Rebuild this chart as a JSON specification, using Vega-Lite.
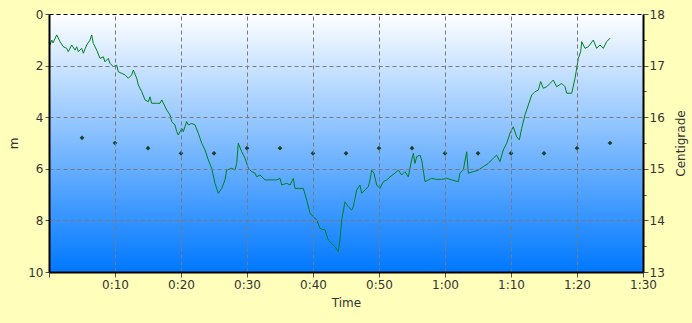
{
  "$schema": "https://vega.github.io/schema/vega-lite/v6.json",
  "autosize": {"type": "none"},
  "width": 594,
  "height": 258,
  "padding": {"left": 49, "top": 14, "right": 49, "bottom": 51},
  "background": "#ffffbb",
  "config": {
    "view": {"stroke": null},
    "axis": {
      "labelFont": "DejaVu Sans", "labelFontSize": 12, "labelColor": "#333333",
      "titleFont": "DejaVu Sans", "titleFontSize": 12, "titleFontWeight": "normal", "titleColor": "#333333",
      "domainColor": "#000000", "domainWidth": 2, "tickColor": "#555555",
      "gridColor": "#7a7a7a", "gridDash": [4, 3], "gridWidth": 1
    }
  },
  "datasets": {
    "depth": [
      {"t":0,"d":1.09},{"t":0.15,"d":1.2},{"t":0.41,"d":1.01},{"t":0.61,"d":1.12},{"t":1.17,"d":0.81},{"t":1.67,"d":1.07},{"t":2.17,"d":1.27},{"t":2.68,"d":1.33},{"t":2.92,"d":1.46},{"t":3.44,"d":1.2},{"t":3.94,"d":1.4},{"t":4.2,"d":1.27},{"t":4.44,"d":1.46},{"t":4.95,"d":1.33},{"t":5.2,"d":1.52},{"t":5.71,"d":1.2},{"t":6.21,"d":1.01},{"t":6.47,"d":0.81},{"t":6.71,"d":1.14},{"t":7.23,"d":1.4},{"t":7.73,"d":1.72},{"t":8.23,"d":1.66},{"t":8.48,"d":1.85},{"t":8.98,"d":1.72},{"t":9.24,"d":1.91},{"t":9.74,"d":2.04},{"t":10.26,"d":1.98},{"t":10.5,"d":2.24},{"t":11.02,"d":2.3},{"t":11.52,"d":2.36},{"t":12.02,"d":2.49},{"t":12.53,"d":2.36},{"t":12.77,"d":2.17},{"t":13.29,"d":2.49},{"t":13.53,"d":2.75},{"t":14.05,"d":3.01},{"t":14.55,"d":3.33},{"t":15.05,"d":3.4},{"t":15.3,"d":3.21},{"t":15.56,"d":3.46},{"t":16.32,"d":3.46},{"t":16.82,"d":3.46},{"t":17.08,"d":3.33},{"t":17.47,"d":3.53},{"t":17.83,"d":3.72},{"t":18.33,"d":3.91},{"t":18.59,"d":4.17},{"t":19.09,"d":4.3},{"t":19.35,"d":4.56},{"t":19.59,"d":4.69},{"t":19.85,"d":4.56},{"t":20.11,"d":4.43},{"t":20.35,"d":4.56},{"t":20.86,"d":4.17},{"t":21.11,"d":4.3},{"t":21.62,"d":4.24},{"t":22.12,"d":4.3},{"t":22.62,"d":4.62},{"t":23.14,"d":5.01},{"t":23.64,"d":5.27},{"t":24.14,"d":5.66},{"t":24.65,"d":5.98},{"t":25.15,"d":6.56},{"t":25.65,"d":6.95},{"t":26.17,"d":6.76},{"t":26.67,"d":6.43},{"t":26.92,"d":6.05},{"t":27.68,"d":5.98},{"t":28.18,"d":6.05},{"t":28.44,"d":5.79},{"t":28.68,"d":5.01},{"t":29.2,"d":5.34},{"t":29.7,"d":5.59},{"t":30.2,"d":5.98},{"t":30.71,"d":6.11},{"t":31.21,"d":6.17},{"t":31.47,"d":6.31},{"t":31.97,"d":6.24},{"t":32.73,"d":6.43},{"t":33.48,"d":6.43},{"t":34.5,"d":6.43},{"t":35,"d":6.37},{"t":35.26,"d":6.63},{"t":36.02,"d":6.56},{"t":36.52,"d":6.63},{"t":37.02,"d":6.37},{"t":37.27,"d":6.76},{"t":37.77,"d":6.76},{"t":38.53,"d":6.76},{"t":39.05,"d":7.21},{"t":39.55,"d":7.72},{"t":40.05,"d":7.86},{"t":40.56,"d":7.98},{"t":41.06,"d":8.31},{"t":41.82,"d":8.37},{"t":42.32,"d":8.76},{"t":42.83,"d":8.89},{"t":43.33,"d":9.02},{"t":43.83,"d":9.21},{"t":44.09,"d":8.76},{"t":44.35,"d":7.98},{"t":44.85,"d":7.28},{"t":45.35,"d":7.47},{"t":45.86,"d":7.6},{"t":46.11,"d":7.47},{"t":46.62,"d":6.82},{"t":47.12,"d":6.63},{"t":47.38,"d":6.95},{"t":47.88,"d":6.82},{"t":48.38,"d":6.69},{"t":48.64,"d":6.43},{"t":48.89,"d":6.05},{"t":49.24,"d":6.17},{"t":49.65,"d":6.63},{"t":50.15,"d":6.76},{"t":50.65,"d":6.5},{"t":51.17,"d":6.43},{"t":51.67,"d":6.31},{"t":52.42,"d":6.17},{"t":52.92,"d":6.05},{"t":53.44,"d":6.24},{"t":53.94,"d":6.11},{"t":54.44,"d":6.31},{"t":54.95,"d":5.66},{"t":55.2,"d":5.4},{"t":55.45,"d":5.79},{"t":55.71,"d":5.53},{"t":56.21,"d":5.47},{"t":56.47,"d":5.66},{"t":56.97,"d":6.5},{"t":57.47,"d":6.43},{"t":57.98,"d":6.37},{"t":58.74,"d":6.41},{"t":59.5,"d":6.41},{"t":60.26,"d":6.37},{"t":61.02,"d":6.43},{"t":62.02,"d":6.5},{"t":62.27,"d":6.17},{"t":62.77,"d":6.05},{"t":63.29,"d":5.34},{"t":63.53,"d":6.17},{"t":64.29,"d":6.11},{"t":65.05,"d":6.05},{"t":65.8,"d":5.92},{"t":66.56,"d":5.79},{"t":67.32,"d":5.59},{"t":67.83,"d":5.47},{"t":68.33,"d":5.72},{"t":68.83,"d":5.27},{"t":69.35,"d":5.01},{"t":69.85,"d":4.62},{"t":70.35,"d":4.37},{"t":70.86,"d":4.76},{"t":71.26,"d":4.88},{"t":71.62,"d":4.43},{"t":72.12,"d":3.91},{"t":72.62,"d":3.53},{"t":73.14,"d":3.14},{"t":73.64,"d":3.01},{"t":74.14,"d":2.95},{"t":74.5,"d":2.62},{"t":74.89,"d":2.88},{"t":75.41,"d":2.82},{"t":75.91,"d":2.69},{"t":76.41,"d":2.56},{"t":76.92,"d":2.82},{"t":77.68,"d":2.69},{"t":78.18,"d":2.82},{"t":78.44,"d":3.07},{"t":79.2,"d":3.07},{"t":79.7,"d":2.49},{"t":80.2,"d":1.72},{"t":80.56,"d":1.46},{"t":80.71,"d":1.07},{"t":81.21,"d":1.33},{"t":81.71,"d":1.27},{"t":82.47,"d":1.01},{"t":82.98,"d":1.33},{"t":83.48,"d":1.2},{"t":83.98,"d":1.33},{"t":84.5,"d":1.07},{"t":85,"d":0.94}
    ],
    "temp": [
      {"t":5,"c":15.6},{"t":10,"c":15.5},{"t":15,"c":15.4},{"t":20,"c":15.3},{"t":25,"c":15.3},{"t":30,"c":15.4},{"t":35,"c":15.4},{"t":40,"c":15.3},{"t":45,"c":15.3},{"t":50,"c":15.4},{"t":55,"c":15.4},{"t":60,"c":15.3},{"t":65,"c":15.3},{"t":70,"c":15.3},{"t":75,"c":15.3},{"t":80,"c":15.4},{"t":85,"c":15.5}
    ],
    "bg": [{"x0":0,"x1":90,"y0":0,"y1":10}]
  },
  "layer": [
    {
      "layer": [
        {
          "data": {"name": "bg"},
          "mark": {"type": "rect", "fill": {"gradient": "linear", "x1": 0, "y1": 0, "x2": 0, "y2": 1, "stops": [{"offset": 0, "color": "#ffffff"}, {"offset": 1, "color": "#0078ff"}]}},
          "encoding": {
            "x": {
              "field": "x0", "type": "quantitative", "scale": {"domain": [0, 90], "nice": false, "zero": false},
              "axis": {
                "title": "Time", "zindex": 1,
                "values": [0,2.5,5,7.5,10,12.5,15,17.5,20,22.5,25,27.5,30,32.5,35,37.5,40,42.5,45,47.5,50,52.5,55,57.5,60,62.5,65,67.5,70,72.5,75,77.5,80,82.5,85,87.5,90],
                "labelExpr": "datum.value % 10 === 0 && datum.value > 0 ? floor(datum.value / 60) + ':' + (datum.value % 60 < 10 ? '0' : '') + (datum.value % 60) : ''",
                "tickSize": {"condition": {"test": "datum.value % 10 === 0", "value": 5}, "value": 3},
                "gridOpacity": {"condition": {"test": "datum.value % 10 === 0 && datum.value > 0 && datum.value < 90", "value": 1}, "value": 0},
                "labelPadding": 2, "labelFlush": false, "labelOverlap": false,
                "titleX": 297, "titleY": 30, "titleBaseline": "middle", "titleAlign": "center"
              }
            },
            "x2": {"field": "x1"},
            "y": {
              "field": "y0", "type": "quantitative", "scale": {"domain": [0, 10], "reverse": true, "nice": false, "zero": false},
              "axis": {
                "title": "m", "orient": "left", "zindex": 1,
                "values": [0,1,2,3,4,5,6,7,8,9,10],
                "labelExpr": "datum.value % 2 === 0 ? datum.label : ''",
                "tickSize": {"condition": {"test": "datum.value % 2 === 0", "value": 4}, "value": 3},
                "gridOpacity": {"condition": {"test": "datum.value % 2 === 0 && datum.value < 10", "value": 1}, "value": 0},
                "gridColor": {"condition": {"test": "datum.value === 0", "value": "#000000"}, "value": "#7a7a7a"},
                "labelPadding": 2, "labelFlush": false, "labelOverlap": false,
                "titleAngle": -90, "titleX": -36, "titleY": 129, "titleBaseline": "middle", "titleAlign": "center"
              }
            },
            "y2": {"field": "y1"}
          }
        },
        {
          "data": {"name": "depth"},
          "mark": {"type": "line", "color": "#008020", "strokeWidth": 1, "interpolate": "linear"},
          "encoding": {
            "x": {"field": "t", "type": "quantitative"},
            "y": {"field": "d", "type": "quantitative"}
          }
        }
      ]
    },
    {
      "data": {"name": "temp"},
      "mark": {"type": "point", "shape": "diamond", "filled": true, "size": 22, "color": "#1d4030", "opacity": 1},
      "encoding": {
        "x": {"field": "t", "type": "quantitative"},
        "y": {
          "field": "c", "type": "quantitative",
          "scale": {"domain": [13, 18], "nice": false, "zero": false},
          "axis": {
            "title": "Centigrade", "orient": "right", "grid": false, "zindex": 1,
            "values": [13,13.5,14,14.5,15,15.5,16,16.5,17,17.5,18],
            "labelExpr": "datum.value % 1 === 0 ? format(datum.value, 'd') : ''",
            "tickSize": {"condition": {"test": "datum.value % 1 === 0", "value": 5}, "value": 3},
            "labelPadding": 1, "labelFlush": false, "labelOverlap": false,
            "titleAngle": -90, "titleX": 37, "titleY": 129, "titleBaseline": "middle", "titleAlign": "center"
          }
        }
      }
    }
  ],
  "resolve": {"scale": {"y": "independent"}}
}
